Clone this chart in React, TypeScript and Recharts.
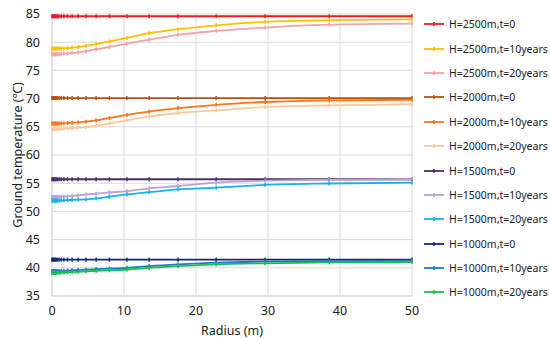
import {
  LineChart,
  Line,
  XAxis,
  YAxis,
  CartesianGrid,
} from "recharts";

// radius sample points (m), dense near the borehole
const radius = [0, 0.1, 0.2, 0.34, 0.44, 0.58, 0.75, 0.98, 1.27, 1.65, 2.15, 2.79, 3.63, 4.72, 6.13, 7.97, 10.4, 13.5, 17.5, 22.8, 29.6, 38.5, 50];

const h2500t0 = [84.6, 84.6, 84.6, 84.6, 84.6, 84.6, 84.6, 84.6, 84.6, 84.6, 84.6, 84.6, 84.6, 84.6, 84.6, 84.6, 84.6, 84.6, 84.6, 84.6, 84.6, 84.6, 84.6];
const h2500t10 = [78.85, 78.85, 78.85, 78.85, 78.86, 78.86, 78.87, 78.88, 78.89, 78.9, 78.95, 79.05, 79.15, 79.33, 79.65, 80.15, 80.75, 81.6, 82.3, 83.0, 83.6, 83.9, 84.05];
const h2500t20 = [77.85, 77.85, 77.85, 77.85, 77.86, 77.86, 77.87, 77.88, 77.9, 77.95, 78.0, 78.1, 78.2, 78.4, 78.75, 79.15, 79.75, 80.45, 81.3, 82.0, 82.6, 83.1, 83.3];
const h2000t0 = [70.1, 70.1, 70.1, 70.1, 70.1, 70.1, 70.1, 70.1, 70.1, 70.1, 70.1, 70.1, 70.1, 70.1, 70.1, 70.1, 70.1, 70.1, 70.1, 70.1, 70.1, 70.1, 70.1];
const h2000t10 = [65.57, 65.57, 65.57, 65.58, 65.58, 65.58, 65.59, 65.6, 65.61, 65.62, 65.66, 65.72, 65.8, 65.92, 66.12, 66.55, 67.1, 67.7, 68.3, 68.9, 69.4, 69.7, 69.8];
const h2000t20 = [64.6, 64.6, 64.6, 64.6, 64.6, 64.61, 64.62, 64.63, 64.65, 64.68, 64.72, 64.78, 64.85, 64.95, 65.2, 65.6, 66.15, 66.8, 67.45, 67.9, 68.5, 68.8, 69.0];
const h1500t0 = [55.7, 55.7, 55.7, 55.7, 55.7, 55.7, 55.7, 55.7, 55.7, 55.7, 55.7, 55.7, 55.7, 55.7, 55.7, 55.7, 55.7, 55.7, 55.7, 55.7, 55.7, 55.7, 55.7];
const h1500t10 = [52.55, 52.55, 52.55, 52.55, 52.56, 52.56, 52.57, 52.58, 52.6, 52.63, 52.68, 52.75, 52.85, 52.98, 53.15, 53.35, 53.6, 54.1, 54.5, 55.1, 55.45, 55.6, 55.7];
const h1500t20 = [51.9, 51.9, 51.9, 51.9, 51.9, 51.91, 51.92, 51.93, 51.95, 51.97, 52.0, 52.03, 52.07, 52.12, 52.3, 52.6, 53.0, 53.4, 53.9, 54.2, 54.7, 54.95, 55.1];
const h1000t0 = [41.45, 41.45, 41.45, 41.45, 41.45, 41.45, 41.45, 41.45, 41.45, 41.45, 41.45, 41.45, 41.45, 41.45, 41.45, 41.45, 41.45, 41.45, 41.45, 41.45, 41.45, 41.45, 41.45];
const h1000t10 = [39.4, 39.4, 39.4, 39.4, 39.4, 39.41, 39.42, 39.43, 39.45, 39.47, 39.5, 39.55, 39.6, 39.67, 39.75, 39.85, 40.0, 40.3, 40.6, 40.9, 41.1, 41.2, 41.25];
const h1000t20 = [39.1, 39.1, 39.1, 39.1, 39.1, 39.11, 39.12, 39.13, 39.15, 39.17, 39.2, 39.25, 39.3, 39.37, 39.45, 39.55, 39.7, 40.0, 40.3, 40.6, 40.8, 40.95, 41.0];

const xTicks = [0, 10, 20, 30, 40, 50];
const yTicks = [35, 40, 45, 50, 55, 60, 65, 70, 75, 80, 85];

const series = [
  { key: "H=2500m,t=0", values: h2500t0, color: "#ee1c24" },
  { key: "H=2500m,t=10years", values: h2500t10, color: "#ffc000" },
  { key: "H=2500m,t=20years", values: h2500t20, color: "#f4a3a6" },
  { key: "H=2000m,t=0", values: h2000t0, color: "#b9520f" },
  { key: "H=2000m,t=10years", values: h2000t10, color: "#ff7416" },
  { key: "H=2000m,t=20years", values: h2000t20, color: "#ffc79b" },
  { key: "H=1500m,t=0", values: h1500t0, color: "#4b3060" },
  { key: "H=1500m,t=10years", values: h1500t10, color: "#b9a2d4" },
  { key: "H=1500m,t=20years", values: h1500t20, color: "#16b2ef" },
  { key: "H=1000m,t=0", values: h1000t0, color: "#13297a" },
  { key: "H=1000m,t=10years", values: h1000t10, color: "#1e78cf" },
  { key: "H=1000m,t=20years", values: h1000t20, color: "#17c24a" },
];

const data = radius.map((r, i) => {
  const row: Record<string, number> = { r };
  series.forEach((s) => (row[s.key] = s.values[i]));
  return row;
});

const font = "'Noto Sans', 'Open Sans', sans-serif";
const grid = "#dadada";

const tickDot = (color: string) => (props: any) => {
  const { cx, cy, index } = props;
  if (cx == null || cy == null) return <g key={index} />;
  return <rect key={index} x={cx - 0.75} y={cy - 2} width={1.5} height={4} fill={color} />;
};

// y axis title, drawn rotated at the left edge
const yTitle = () => (
  <text
    x={17}
    y={155}
    transform="rotate(-90 17 155)"
    textAnchor="middle"
    dominantBaseline="central"
    fontSize={12.5}
    fill="#222"
    fontFamily={font}
  >
    Ground temperature (℃)
  </text>
);

const ChartLegend = () => (
  <div style={{ position: "absolute", left: 424, top: 12, fontFamily: font, fontSize: 10.5, color: "#222" }}>
    {series.map((s) => (
      <div key={s.key} style={{ height: 24.4, display: "flex", alignItems: "center", whiteSpace: "nowrap" }}>
        <svg width={22} height={8} style={{ marginRight: 3 }}>
          <line x1={0} y1={4} x2={20} y2={4} stroke={s.color} strokeWidth={1.8} />
          <rect x={9.25} y={2} width={1.5} height={4} fill={s.color} />
        </svg>
        <span>{s.key}</span>
      </div>
    ))}
  </div>
);

export default function App() {
  return (
    <div style={{ position: "absolute", left: 0, top: 0, width: 550, height: 339, background: "#fff" }}>
      <LineChart width={550} height={339} data={data} margin={{ top: 14, right: 138, left: 0, bottom: 0 }}>
        <CartesianGrid stroke={grid} strokeWidth={1} />
        <XAxis
          dataKey="r"
          type="number"
          domain={[0, 50]}
          ticks={xTicks}
          tickLine={false}
          axisLine={{ stroke: grid }}
          tick={{ fontSize: 12.5, fill: "#222", fontFamily: font }}
          tickMargin={4}
          height={43}
          label={{ value: "Radius (m)", position: "insideBottom", offset: 4, style: { fontSize: 12.5, fill: "#222", fontFamily: font } }}
        />
        <YAxis
          type="number"
          domain={[35, 85]}
          ticks={yTicks}
          tickLine={false}
          axisLine={{ stroke: grid }}
          tick={{ fontSize: 12.5, fill: "#222", fontFamily: font }}
          tickMargin={6}
          width={52}
          label={{ content: yTitle }}
        />
        {series.map((s) => (
          <Line
            key={s.key}
            type="monotone"
            dataKey={s.key}
            stroke={s.color}
            strokeWidth={1.8}
            dot={tickDot(s.color)}
            activeDot={false}
            isAnimationActive={false}
          />
        ))}
      </LineChart>
      <ChartLegend />
    </div>
  );
}
